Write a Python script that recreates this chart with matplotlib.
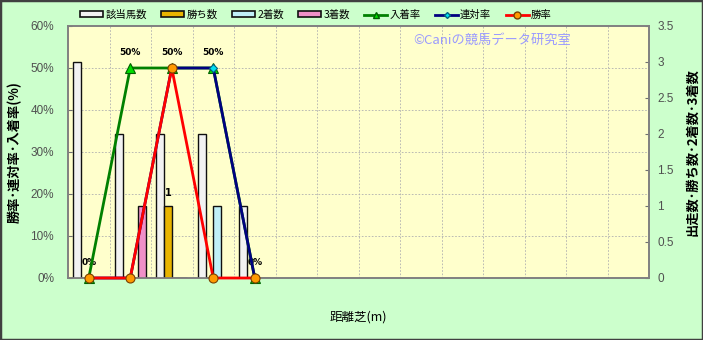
import matplotlib
matplotlib.use("Agg")
import matplotlib.pyplot as plt
import numpy as np
from matplotlib.patches import Rectangle
from matplotlib.lines import Line2D
from matplotlib.ticker import FixedLocator

plt.rcParams['font.family'] = ['Noto Sans CJK JP', 'DejaVu Sans']

# ---- data ----
distances = ['1400', '1600', '1800', '2000', '2400']
n_slots = 14
starts = [3, 2, 2, 2, 1]        # 該当馬数
wins = [0, 0, 1, 0, 0]          # 勝ち数
seconds = [0, 0, 0, 1, 0]       # 2着数
thirds = [0, 1, 0, 0, 0]        # 3着数
place_rate = [0, 50, 50, 50, 0]   # 入着率
rentai_rate = [0, 0, 50, 50, 0]   # 連対率
win_rate = [0, 0, 50, 0, 0]       # 勝率

W, H = 703, 340
fig = plt.figure(figsize=(W / 100, H / 100), dpi=100, facecolor='#ccffcc')
L, R, T, B = 68, 649, 26, 278
axr = fig.add_axes([L / W, 1 - B / H, (R - L) / W, (B - T) / H])
ax = axr.twinx()
ax.set_zorder(axr.get_zorder() + 1)
ax.patch.set_visible(False)
axr.set_facecolor('#ffffcc')

x = np.arange(len(distances))
bw = 0.185
bar_series = [(starts, '#f2f2f2', '該当馬数'), (wins, '#e8b400', '勝ち数'),
              (seconds, '#c0f0f8', '2着数'), (thirds, '#f090c8', '3着数')]
handles = []
for i, (vals, col, lab) in enumerate(bar_series):
    axr.bar(x + (i - 1.5) * bw, vals, width=bw, color=col, edgecolor='#101010',
            linewidth=1.0, label=lab, zorder=3)
    handles.append(Rectangle((0, 0), 1, 1, facecolor=col, edgecolor='#101010', linewidth=1.2, label=lab))

# label on win bar
for xi, v in zip(x, wins):
    if v > 0:
        axr.annotate(str(v), (xi - 0.5 * bw, v), xytext=(0, 6), textcoords='offset points',
                     ha='center', va='bottom', fontsize=7, fontweight='bold', family=['DejaVu Sans'])

line_series = [(place_rate, '#008000', '^', '#00dd00', '#006000', 6.5, '入着率'),
               (rentai_rate, '#000080', 'D', '#00e0f0', '#006080', 4.5, '連対率'),
               (win_rate, '#ff0000', 'o', '#ff9900', '#7a4000', 6.5, '勝率')]
for vals, col, mk, mfc, mec, ms, lab in line_series:
    ax.plot(x, vals, color=col, lw=2, marker=mk, markerfacecolor=mfc, markeredgecolor=mec,
            markersize=ms, markeredgewidth=0.8, clip_on=False, zorder=4)
    handles.append(Line2D([], [], color=col, lw=2, marker=mk, markerfacecolor=mfc,
                          markeredgecolor=mec, markersize=ms - 1.5, label=lab))

# rate labels
label_vals = [place_rate[0], place_rate[1], win_rate[2], rentai_rate[3], place_rate[4]]
for xi, v in zip(x, label_vals):
    ax.annotate(f'{v}%', (xi, v), xytext=(0, 8), textcoords='offset points', ha='center',
                va='bottom', fontsize=6.5, fontweight='bold', family=['DejaVu Sans'])

ax.set_xlim(-0.5, n_slots - 0.5)
axr.set_xlim(-0.5, n_slots - 0.5)
ax.set_ylim(0, 60)
axr.set_ylim(0, 3.5)

ax.yaxis.tick_left()
ax.yaxis.set_label_position('left')
axr.yaxis.tick_right()
axr.yaxis.set_label_position('right')

ax.set_yticks(np.arange(0, 61, 10))
ax.set_yticklabels([f'{v}%' for v in range(0, 61, 10)])
axr.set_yticks(np.arange(0, 3.51, 0.5))
axr.set_yticklabels(['0', '0.5', '1', '1.5', '2', '2.5', '3', '3.5'])

axr.set_xticks(x)
axr.set_xticklabels(distances)
ax.set_xticks([])
axr.xaxis.set_minor_locator(FixedLocator(np.arange(0.5, n_slots - 0.5, 1)))

tick_kw = dict(labelsize=8.5, labelcolor='#505050', colors='#707070', direction='in', length=3)
ax.tick_params(axis='y', pad=10, **tick_kw)
axr.tick_params(axis='y', pad=6, **tick_kw)
axr.tick_params(axis='x', which='major', length=0, pad=7, labelsize=8.5, labelcolor='#505050')
axr.tick_params(axis='x', which='minor', length=0)
for t in ax.get_yticklabels() + axr.get_yticklabels() + axr.get_xticklabels():
    t.set_family(['Liberation Sans', 'DejaVu Sans'])

# grid
for v in np.arange(10, 60, 10):
    axr.axhline(v / 60 * 3.5, color='#b0b0b0', lw=0.6, ls=(0, (2, 2)), zorder=1)
axr.grid(True, which='minor', axis='x', color='#b0b0b0', lw=0.6, ls=(0, (2, 2)), zorder=1)

for a in (ax, axr):
    for s in a.spines.values():
        s.set_color('#808080')
        s.set_linewidth(1.2)

ax.set_ylabel('勝率･連対率･入着率(%)', fontsize=9.5, fontweight='bold', labelpad=6)
axr.set_ylabel('出走数･勝ち数･2着数･3着数', fontsize=9.5, fontweight='bold', rotation=90, labelpad=8)
axr.set_xlabel('距離芝(m)', fontsize=9, labelpad=20)

ax.text(0.595, 0.945, '©Caniの競馬データ研究室', transform=ax.transAxes, fontsize=9.5,
        color='#9a9aff', ha='left', va='center')

fig.legend(handles=handles, loc='center', bbox_to_anchor=(316 / W, 1 - 15 / H), ncol=7,
           frameon=False, fontsize=7.5, handlelength=2.2, handleheight=0.5, handletextpad=0.2,
           columnspacing=1.4)

fig.patches.append(Rectangle((0, 0), 1, 1, transform=fig.transFigure, fill=False,
                             edgecolor='#404040', linewidth=2.5))

fig.savefig('out.png', dpi=100, facecolor=fig.get_facecolor())
